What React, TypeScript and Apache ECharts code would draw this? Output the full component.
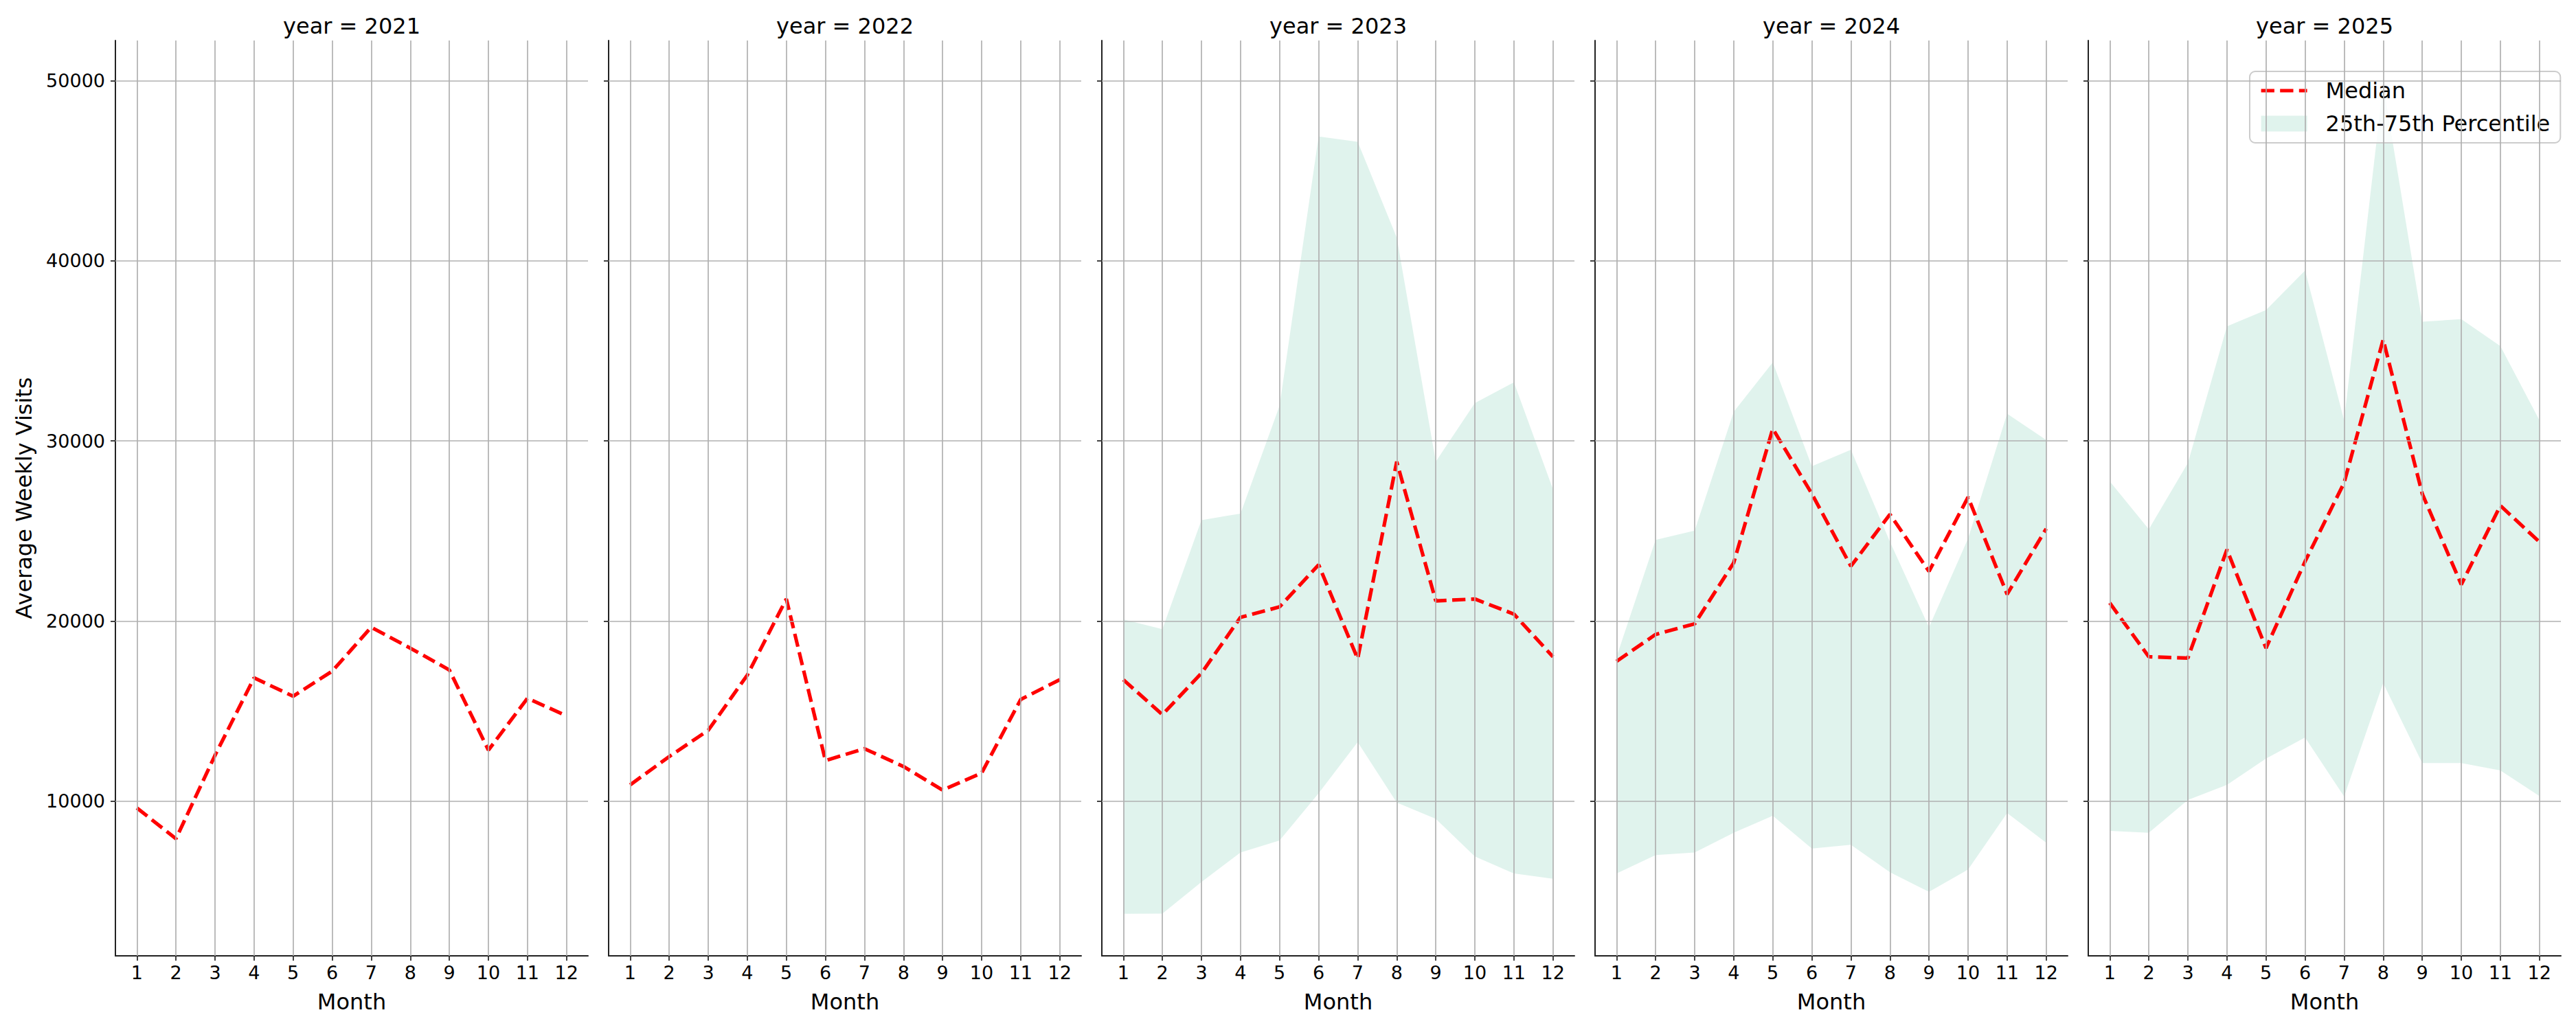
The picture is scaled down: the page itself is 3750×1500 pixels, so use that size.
import { useEffect, useRef } from "react";
import * as echarts from "echarts";

const years = [2021, 2022, 2023, 2024, 2025];
const months = [1, 2, 3, 4, 5, 6, 7, 8, 9, 10, 11, 12];
const yTicks = [10000, 20000, 30000, 40000, 50000];

const median2021 = [9630, 7920, 12550, 16850, 15830, 17220, 19660, 18500, 17290, 12840, 15720, 14740];
const median2022 = [10910, 12480, 13940, 17000, 21230, 12260, 12920, 11930, 10620, 11570, 15650, 16750];
const median2023 = [16750, 14810, 17110, 20210, 20790, 23130, 17910, 28850, 21120, 21230, 20390, 18020];
const median2024 = [17770, 19260, 19850, 23240, 30680, 27070, 23050, 25930, 22760, 26880, 21490, 25130];
const median2025 = [21010, 18020, 17950, 23970, 18500, 23310, 27680, 35630, 27070, 22030, 26410, 24400];

const p25_2023 = [3750, 3760, 5520, 7160, 7820, 10440, 13280, 9930, 9020, 6940, 5990, 5700];
const p75_2023 = [20100, 19550, 25610, 25970, 31950, 46900, 46610, 41290, 28850, 32100, 33260, 27320];
const p25_2024 = [5990, 7010, 7160, 8250, 9200, 7380, 7590, 6060, 4970, 6210, 9350, 7700];
const p75_2024 = [18020, 24510, 25020, 31620, 34360, 28600, 29510, 24400, 19660, 24590, 31510, 30060];
const p25_2025 = [8360, 8250, 10070, 10910, 12370, 13540, 10260, 16560, 12120, 12120, 11710, 10290];
const p75_2025 = [27760, 25100, 28780, 36360, 37270, 39460, 31150, 49800, 36620, 36760, 35270, 31150];

const medians = [median2021, median2022, median2023, median2024, median2025];
const lowers = [null, null, p25_2023, p25_2024, p25_2025];
const uppers = [null, null, p75_2023, p75_2024, p75_2025];

const FONT = "DejaVu Sans";
const BAND = "rgba(102,194,165,0.2)";

const App = () => {
  const chartRef = useRef(null);

  useEffect(() => {
    document.body.style.margin = "0";
    const chart = echarts.init(chartRef.current, null, { renderer: "svg" });

    const left0 = 168;
    const step = 718;
    const w = 688;
    const top = 59;
    const h = 1333;

    const grid: any[] = [];
    const xAxis: any[] = [];
    const yAxis: any[] = [];
    const title: any[] = [];
    const series: any[] = [];

    years.forEach((year, i) => {
      grid.push({ left: left0 + i * step, top, width: w, height: h });
      title.push({
        text: "year = " + year,
        left: left0 + i * step + w / 2,
        top: 22,
        textAlign: "center",
        padding: 0,
        textStyle: { fontFamily: FONT, fontSize: 32, fontWeight: "normal", color: "#000" },
      });
      xAxis.push({
        gridIndex: i,
        type: "value",
        min: 0.45,
        max: 12.55,
        name: "Month",
        nameLocation: "middle",
        nameGap: 51,
        nameTextStyle: { fontFamily: FONT, fontSize: 32, color: "#000" },
        axisLine: { show: true, onZero: false, lineStyle: { color: "#222", width: 2 } },
        axisTick: { show: true, customValues: months, length: 7, lineStyle: { color: "#222", width: 1.7 } },
        axisLabel: { customValues: months, fontFamily: FONT, fontSize: 27, color: "#000", margin: 11 },
        splitLine: { show: false },
      });
      yAxis.push({
        gridIndex: i,
        type: "value",
        min: 1420,
        max: 52230,
        name: i === 0 ? "Average Weekly Visits" : "",
        nameLocation: "middle",
        nameRotate: 90,
        nameGap: 117,
        nameTextStyle: { fontFamily: FONT, fontSize: 32, color: "#000" },
        axisLine: { show: true, onZero: false, lineStyle: { color: "#222", width: 2 } },
        axisTick: { show: true, customValues: yTicks, length: 7, lineStyle: { color: "#222", width: 1.7 } },
        axisLabel: {
          show: i === 0,
          customValues: yTicks,
          formatter: (v) => String(v),
          fontFamily: FONT,
          fontSize: 27,
          color: "#000",
          margin: 15,
        },
        splitLine: { show: false },
      });

      // grid lines
      series.push({
        type: "line",
        xAxisIndex: i,
        yAxisIndex: i,
        data: [],
        silent: true,
        z: 1,
        markLine: {
          silent: true,
          symbol: ["none", "none"],
          label: { show: false },
          lineStyle: { color: "#b0b0b0", width: 1.7, type: "solid" },
          emphasis: { disabled: true },
          data: [...months.map((m) => ({ xAxis: m })), ...yTicks.map((v) => ({ yAxis: v }))],
        },
      });

      const lo = lowers[i];
      const hi = uppers[i];
      if (lo && hi) {
        series.push({
          name: "25th-75th Percentile",
          type: "custom",
          xAxisIndex: i,
          yAxisIndex: i,
          silent: true,
          z: 2,
          itemStyle: { color: BAND },
          data: months.map((m, k) => [m, lo[k], hi[k]]),
          encode: { x: 0, y: [1, 2] },
          renderItem: (params, api) => {
            if (params.dataIndex !== 0) return null;
            const pts = [];
            months.forEach((m, k) => pts.push(api.coord([m, hi[k]])));
            for (let k = months.length - 1; k >= 0; k--) pts.push(api.coord([months[k], lo[k]]));
            return {
              type: "polygon",
              shape: { points: pts },
              style: { fill: BAND, stroke: "none" },
            };
          },
        });
      }

      series.push({
        name: "Median",
        type: "line",
        xAxisIndex: i,
        yAxisIndex: i,
        data: months.map((m, k) => [m, medians[i][k]]),
        symbol: "none",
        silent: true,
        itemStyle: { color: "#ff0000" },
        lineStyle: { color: "#ff0000", width: 5.2, type: [19.3, 8.3] },
        z: 3,
      });
    });

    const option: any = {
      animation: false,
      backgroundColor: "#fff",
      title,
      grid,
      xAxis,
      yAxis,
      series,
      legend: {
        orient: "vertical",
        left: 3275,
        top: 104,
        backgroundColor: "rgba(255,255,255,0.8)",
        borderColor: "#cccccc",
        borderWidth: 2,
        borderRadius: 8,
        padding: [12, 15, 12, 14],
        itemGap: 16,
        itemWidth: 67,
        itemHeight: 23,
        textStyle: { fontFamily: FONT, fontSize: 32, color: "#000", padding: [0, 0, 0, 22] },
        data: [
          {
            name: "Median",
            itemStyle: { opacity: 0 },
            lineStyle: { color: "#ff0000", width: 5.2, type: [19.3, 8.3] },
          },
          { name: "25th-75th Percentile", icon: "rect", itemStyle: { color: BAND } },
        ],
        selectedMode: false,
      },
    };

    chart.setOption(option);

    return () => {
      chart.dispose();
    };
  }, []);

  return <div ref={chartRef} style={{ width: "3750px", height: "1500px" }} />;
};

export default App;
